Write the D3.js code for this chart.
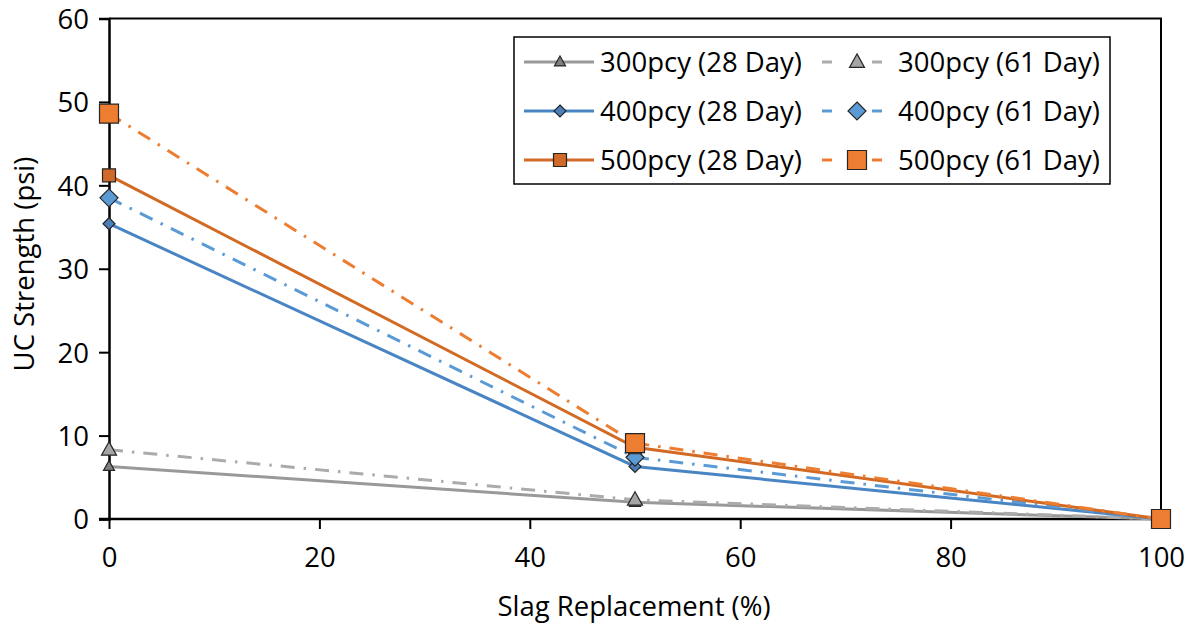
<!DOCTYPE html>
<html><head><meta charset="utf-8">
<script src="https://cdn.jsdelivr.net/npm/d3@7"></script>
<style>
html,body{margin:0;padding:0;background:#fff;}
text{font-family:"Open Sans","Noto Sans",sans-serif;fill:#000;}
</style></head>
<body>
<svg id="c" width="1193" height="626"></svg>
<script>
const xValues = [0, 50, 100];
const seriesNames = ["300pcy (28 Day)", "300pcy (61 Day)", "400pcy (28 Day)", "400pcy (61 Day)", "500pcy (28 Day)", "500pcy (61 Day)"];
const s300d28 = [6.3, 2.0, 0];
const s300d61 = [8.3, 2.3, 0];
const s400d28 = [35.4, 6.3, 0];
const s400d61 = [38.5, 7.4, 0];
const s500d28 = [41.2, 8.6, 0];
const s500d61 = [48.6, 9.1, 0];
const xTicks = [0, 20, 40, 60, 80, 100];
const yTicks = [0, 10, 20, 30, 40, 50, 60];

const seriesValues = [s300d28, s300d61, s400d28, s400d61, s500d28, s500d61];
const styles = [
  {line:"#999999", fill:"#7f7f7f", shape:"tri", size:11, dash:null},
  {line:"#ababab", fill:"#a5a5a5", shape:"tri", size:15, dash:"14,9,2.5,9"},
  {line:"#4a85c3", fill:"#4a7fbb", shape:"dia", size:12, dash:null},
  {line:"#5b9bd5", fill:"#5b9bd5", shape:"dia", size:18, dash:"14,9,2.5,9"},
  {line:"#d26a24", fill:"#d0692a", shape:"sq", size:13, dash:null},
  {line:"#ed7d31", fill:"#ed7d31", shape:"sq", size:19, dash:"14,9,2.5,9"}
];

const FS = "27.5px";
const svg = d3.select("#c");
const L = 109, R = 1161, T = 18.5, B = 519;
const x = d3.scaleLinear().domain([0, 100]).range([L, R]);
const y = d3.scaleLinear().domain([0, 60]).range([B, T]);

function markerPath(shape, s) {
  const h = s / 2;
  if (shape === "sq") return `M${-h},${-h}H${h}V${h}H${-h}Z`;
  if (shape === "dia") return `M0,${-h}L${h},0L0,${h}L${-h},0Z`;
  const th = s * 0.9;
  return `M0,${-th*0.6}L${h},${th*0.4}L${-h},${th*0.4}Z`;
}

// frame (top & right)
svg.append("path").attr("d", `M${L},${T}H${R}V${B}`).attr("fill","none").attr("stroke","#000").attr("stroke-width",2);

// axes
const yAxis = d3.axisLeft(y).tickValues(yTicks).tickSize(10);
const gy = svg.append("g").attr("transform", `translate(${L},0)`).call(yAxis);
gy.select(".domain").attr("stroke","#000").attr("stroke-width",2.5);
gy.selectAll(".tick line").attr("stroke","#000").attr("stroke-width",2);
gy.selectAll(".tick text").style("font-size",FS).attr("dy","0.36em").attr("x",-20);

const xAxis = d3.axisBottom(x).tickValues(xTicks).tickSize(10);
const gx = svg.append("g").attr("transform", `translate(0,${B})`).call(xAxis);
gx.select(".domain").attr("stroke","#000").attr("stroke-width",2.5).attr("d", `M${L-10},0H${R}`);
gx.selectAll(".tick line").attr("stroke","#000").attr("stroke-width",2);
gx.selectAll(".tick text").style("font-size",FS).attr("y",28).attr("dy","0.71em");

// titles
svg.append("text").attr("x", 634).attr("y", 616).attr("text-anchor","middle").style("font-size",FS).text("Slag Replacement (%)");
svg.append("text").attr("transform", `translate(34,264) rotate(-90)`).attr("text-anchor","middle").style("font-size",FS).text("UC Strength (psi)");

// series
const line = d3.line().x((d,i) => x(xValues[i])).y(d => y(d));
seriesValues.forEach((vals, k) => {
  const st = styles[k];
  const g = svg.append("g");
  g.append("path").attr("d", line(vals)).attr("fill","none").attr("stroke", st.line).attr("stroke-width",3)
    .attr("stroke-dasharray", st.dash);
  g.selectAll("path.m").data(vals).join("path").attr("class","m")
    .attr("transform", (d,i) => `translate(${x(xValues[i])},${y(d)})`)
    .attr("d", markerPath(st.shape, st.size)).attr("fill", st.fill).attr("stroke","#262626").attr("stroke-width",1.2);
});

// legend
const lg = svg.append("g");
lg.append("rect").attr("x",514).attr("y",37).attr("width",596).attr("height",147).attr("fill","#fff").attr("stroke","#000").attr("stroke-width",1.5);
const rowsY = [62, 111, 160];
const cols = [{x0:524, x1:594, mx:560, tx:600}, {x0:822, x1:882, mx:857, tx:898}];
seriesNames.forEach((name, k) => {
  const st = styles[k];
  const c = cols[k % 2], ry = rowsY[Math.floor(k / 2)];
  if (st.dash) {
    lg.append("line").attr("x1",c.x0).attr("x2",c.x0+10).attr("y1",ry).attr("y2",ry).attr("stroke",st.line).attr("stroke-width",3);
    lg.append("line").attr("x1",c.x1-10).attr("x2",c.x1).attr("y1",ry).attr("y2",ry).attr("stroke",st.line).attr("stroke-width",3);
  } else {
    lg.append("line").attr("x1",c.x0).attr("x2",c.x1).attr("y1",ry).attr("y2",ry).attr("stroke",st.line).attr("stroke-width",3);
  }
  lg.append("path").attr("transform",`translate(${c.mx},${ry})`).attr("d", markerPath(st.shape, st.size))
    .attr("fill", st.fill).attr("stroke","#262626").attr("stroke-width",1.2);
  lg.append("text").attr("x", c.tx).attr("y", ry).attr("dy","0.36em").style("font-size",FS).text(name);
});
</script>
</body></html>
